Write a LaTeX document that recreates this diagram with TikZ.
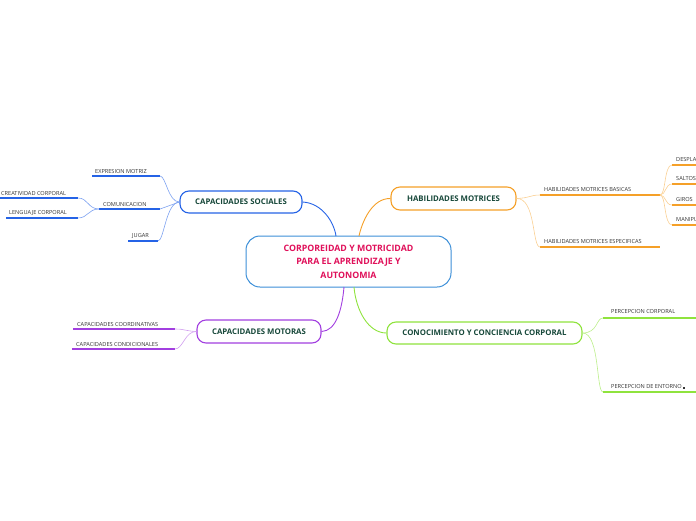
\documentclass[tikz,border=0pt]{standalone}
\usepackage{fontspec}
\setmainfont{Open Sans}
\begin{document}
\begin{tikzpicture}[x=1pt,y=-1pt,
  box/.style={draw,rounded corners=9pt,line width=1.1pt,fill=white,inner sep=0pt,font=\bfseries\fontsize{7.8}{9}\selectfont,text=textgreen},
  leaf/.style={inner sep=0pt,anchor=south west,font=\fontsize{5.6}{6}\selectfont,text=black!80},
  con/.style={line width=0.6pt},
  ul/.style={line width=1.5pt}]
\definecolor{textgreen}{HTML}{17483A}
\definecolor{cblue}{HTML}{2563E6}
\definecolor{corange}{HTML}{F5A028}
\definecolor{cgreen}{HTML}{8FE33D}
\definecolor{cpurple}{HTML}{A23FE0}
\definecolor{ccenter}{HTML}{3C8FD8}
\definecolor{ctext}{HTML}{E0105A}
\useasboundingbox (0,0) rectangle (696,520);
\clip (0,0) rectangle (696,520);
% central
\node[draw=ccenter,line width=1pt,rounded corners=14pt,fill=white,minimum width=205pt,minimum height=51pt,align=center,
  font=\bfseries\fontsize{8.8}{13.5}\selectfont,text=ctext] (c) at (348.5,261.5)
  {CORPOREIDAD Y MOTRICIDAD\\PARA EL APRENDIZAJE Y\\AUTONOMIA};
% main boxes
\node[box,draw=cblue,minimum width=122pt,minimum height=22pt] (soc) at (241,202) {CAPACIDADES SOCIALES};
\node[box,draw=corange,minimum width=125pt,minimum height=23pt] (hab) at (453.5,198.5) {HABILIDADES MOTRICES};
\node[box,draw=cgreen,minimum width=195pt,minimum height=22pt] (con) at (484.5,333) {CONOCIMIENTO Y CONCIENCIA CORPORAL};
\node[box,draw=cpurple,minimum width=124pt,minimum height=23pt] (mot) at (259,331.5) {CAPACIDADES MOTORAS};
% main connectors
\draw[con,line width=0.9pt,cblue] (soc.east) .. controls (322,203) and (334,222) .. (336,236);
\draw[con,line width=0.9pt,corange] (hab.west) .. controls (372,198) and (362,222) .. (359,236);
\draw[con,line width=0.9pt,cgreen] (con.west) .. controls (368,333) and (356,310) .. (354,287);
\draw[con,line width=0.9pt,cpurple] (mot.east) .. controls (336,331) and (342,310) .. (344,287);
% leaves: social
\node[leaf] (em) at (95,174) {EXPRESION MOTRIZ};
\draw[ul,cblue] (92,176) coordinate (em1) -- (160,176) coordinate (em2);
\node[leaf] (cm) at (103,207) {COMUNICACION};
\draw[ul,cblue] (99,209) coordinate (cm1) -- (160,209) coordinate (cm2);
\node[leaf] (cc) at (1,196) {CREATIVIDAD CORPORAL};
\draw[ul,cblue] (0,198) -- (78,198) coordinate (cc2);
\node[leaf] (lc) at (9,216) {LENGUAJE CORPORAL};
\draw[ul,cblue] (6,218) -- (78,218) coordinate (lc2);
\node[leaf] (jg) at (132,239) {JUGAR};
\draw[ul,cblue] (128,241) -- (158,241) coordinate (jg2);
\begin{scope}[cblue!60,con]
\draw (soc.west) .. controls (168,202) and (166,176) .. (em2);
\draw (soc.west) -- (cm2);
\draw (soc.west) .. controls (166,202) and (164,241) .. (jg2);
\draw (cm1) .. controls (88,209) and (88,198) .. (cc2);
\draw (cm1) .. controls (88,209) and (88,218) .. (lc2);
\end{scope}
% leaves: motoras
\node[leaf] (co) at (77,327) {CAPACIDADES COORDINATIVAS};
\draw[ul,cpurple] (73,329) -- (175,329) coordinate (co2);
\node[leaf] (cd) at (76,347) {CAPACIDADES CONDICIONALES};
\draw[ul,cpurple] (72,349) -- (175,349) coordinate (cd2);
\begin{scope}[cpurple!50,con]
\draw (mot.west) .. controls (185,331) and (185,329) .. (co2);
\draw (mot.west) .. controls (185,331) and (183,349) .. (cd2);
\end{scope}
% leaves: habilidades
\node[leaf] (hb) at (544,192) {HABILIDADES MOTRICES BASICAS};
\draw[ul,corange] (540,195) coordinate (hb1) -- (660,195) coordinate (hb2);
\node[leaf] (he) at (544,244) {HABILIDADES MOTRICES ESPECIFICAS};
\draw[ul,corange] (540,247) coordinate (he1) -- (660,247);
\node[leaf] (d1) at (676,162) {DESPLAZAMIENTOS};
\draw[ul,corange] (672,165) coordinate (d1a) -- (700,165);
\node[leaf] (d2) at (676,181) {SALTOS};
\draw[ul,corange] (672,184) coordinate (d2a) -- (700,184);
\node[leaf] (d3) at (676,202) {GIROS};
\draw[ul,corange] (672,205) coordinate (d3a) -- (700,205);
\node[leaf] (d4) at (676,222) {MANIPULACIONES};
\draw[ul,corange] (672,225) coordinate (d4a) -- (700,225);
\begin{scope}[corange!50,con]
\draw (hab.east) .. controls (530,198) and (530,195) .. (hb1);
\draw (hab.east) .. controls (536,198) and (532,247) .. (he1);
\draw (hb2) .. controls (666,195) and (664,165) .. (d1a);
\draw (hb2) .. controls (666,195) and (665,184) .. (d2a);
\draw (hb2) .. controls (666,195) and (665,205) .. (d3a);
\draw (hb2) .. controls (666,195) and (664,225) .. (d4a);
\end{scope}
% leaves: conocimiento
\node[leaf] (pc) at (611,314) {PERCEPCION CORPORAL};
\draw[ul,cgreen] (603,318) coordinate (pc1) -- (700,318);
\node[leaf] (pe) at (611,389) {PERCEPCION DE ENTORNO\,\rule{2pt}{2pt}};
\draw[ul,cgreen] (603,392) coordinate (pe1) -- (700,392);
\begin{scope}[cgreen!60,con]
\draw (con.east) .. controls (598,333) and (596,318) .. (pc1);
\draw (con.east) .. controls (600,333) and (596,392) .. (pe1);
\end{scope}
\end{tikzpicture}
\end{document}
